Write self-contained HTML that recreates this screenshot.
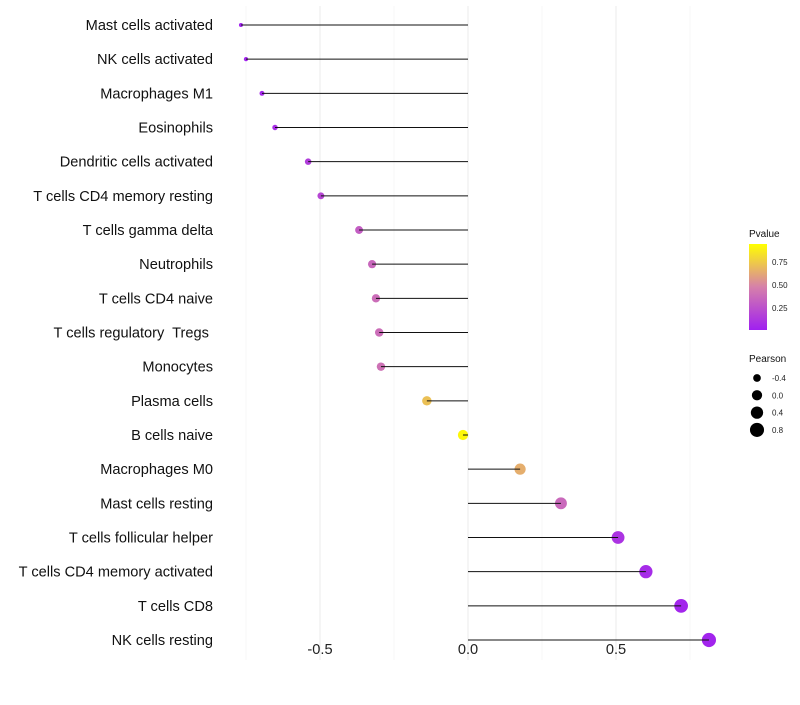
<!DOCTYPE html>
<html><head><meta charset="utf-8"><style>
body{margin:0;background:#fff;font-family:"Liberation Sans",sans-serif;}
svg text{font-family:"Liberation Sans",sans-serif;white-space:pre;}
</style></head><body>
<svg id="chart" width="800" height="700"></svg>
<script>
const categories=["Mast cells activated","NK cells activated","Macrophages M1","Eosinophils","Dendritic cells activated","T cells CD4 memory resting","T cells gamma delta","Neutrophils","T cells CD4 naive","T cells regulatory  Tregs ","Monocytes","Plasma cells","B cells naive","Macrophages M0","Mast cells resting","T cells follicular helper","T cells CD4 memory activated","T cells CD8","NK cells resting"];
const pearson=[-0.767,-0.75,-0.696,-0.652,-0.54,-0.497,-0.368,-0.324,-0.311,-0.30,-0.294,-0.139,-0.017,0.176,0.314,0.507,0.601,0.72,0.814];
const pvalues=[0.01,0.02,0.04,0.07,0.15,0.2,0.32,0.37,0.4,0.4,0.42,0.75,0.97,0.68,0.38,0.1,0.06,0.03,0.02];
const xTicks=[-0.5,0,0.5];
const xTickLabels=["-0.5","0.0","0.5"];
const minorTicks=[-0.75,-0.25,0.25,0.75];
const colorTicks=[0.25,0.5,0.75];
const sizeLegend=[-0.4,0,0.4,0.8];
const sizeLegendLabels=["-0.4","0.0","0.4","0.8"];

const NS="http://www.w3.org/2000/svg";
const svg=document.getElementById('chart');
function mk(t,a,p){const e=document.createElementNS(NS,t);for(const k in a)e.setAttribute(k,a[k]);(p||svg).appendChild(e);return e;}
const x=v=>468+v*296;
const y=i=>25+i*(615/18);
const r=v=>Math.sqrt(4+Math.max(0,v+0.77)*29);
function lerp(a,b,t){return Math.round(a+(b-a)*t);}
function col(p){
  const c0=[160,32,240],c1=[214,128,170],c2=[255,255,0];
  let a,b,t;if(p<0.5){a=c0;b=c1;t=p/0.5;}else{a=c1;b=c2;t=(p-0.5)/0.5;}
  return `rgb(${lerp(a[0],b[0],t)},${lerp(a[1],b[1],t)},${lerp(a[2],b[2],t)})`;
}
minorTicks.forEach(v=>{const g=mk('line',{x1:x(v),x2:x(v),y1:6,y2:660,stroke:'#f2f2f2','stroke-width':0.6});
});
xTicks.forEach((v,i)=>{const g=mk('line',{x1:x(v),x2:x(v),y1:6,y2:660,stroke:'#ebebeb','stroke-width':1});

const t=mk('text',{x:x(v),y:654,'text-anchor':'middle','font-size':14.6,fill:'#222'});t.textContent=xTickLabels[i];
});
categories.forEach((c,i)=>{
  const t=mk('text',{x:213,y:y(i)+5,'text-anchor':'end','font-size':14.6,fill:'#111'});t.textContent=c;
  
  const d=mk('circle',{cx:x(pearson[i]),cy:y(i),r:r(pearson[i]),fill:col(pvalues[i])});
  
  const l=mk('line',{x1:x(0),x2:x(pearson[i]),y1:y(i),y2:y(i),stroke:'#111','stroke-width':1});
  
});
const defs=mk('defs',{});
const lg=mk('linearGradient',{id:'pg',x1:0,y1:1,x2:0,y2:0},defs);
[0,0.25,0.5,0.75,1].forEach(p=>mk('stop',{offset:p,'stop-color':col(p)},lg));
const lt=mk('text',{x:749,y:237,'font-size':10,fill:'#111'});lt.textContent='Pvalue';

const bar=mk('rect',{x:749,y:244,width:18,height:86,fill:'url(#pg)'});

colorTicks.forEach(p=>{const yy=331-p*92;
 const tk=mk('text',{x:772,y:yy+3,'font-size':8,fill:'#222'});tk.textContent=p.toFixed(2);
 });
const st=mk('text',{x:749,y:362,'font-size':10,fill:'#111'});st.textContent='Pearson';

sizeLegend.forEach((v,i)=>{const yy=378+i*17.3;
 const c=mk('circle',{cx:757,cy:yy,r:r(v),fill:'#000'});
 
 const t=mk('text',{x:772,y:yy+3,'font-size':8,fill:'#222'});t.textContent=sizeLegendLabels[i];
 });
</script>
</body></html>
